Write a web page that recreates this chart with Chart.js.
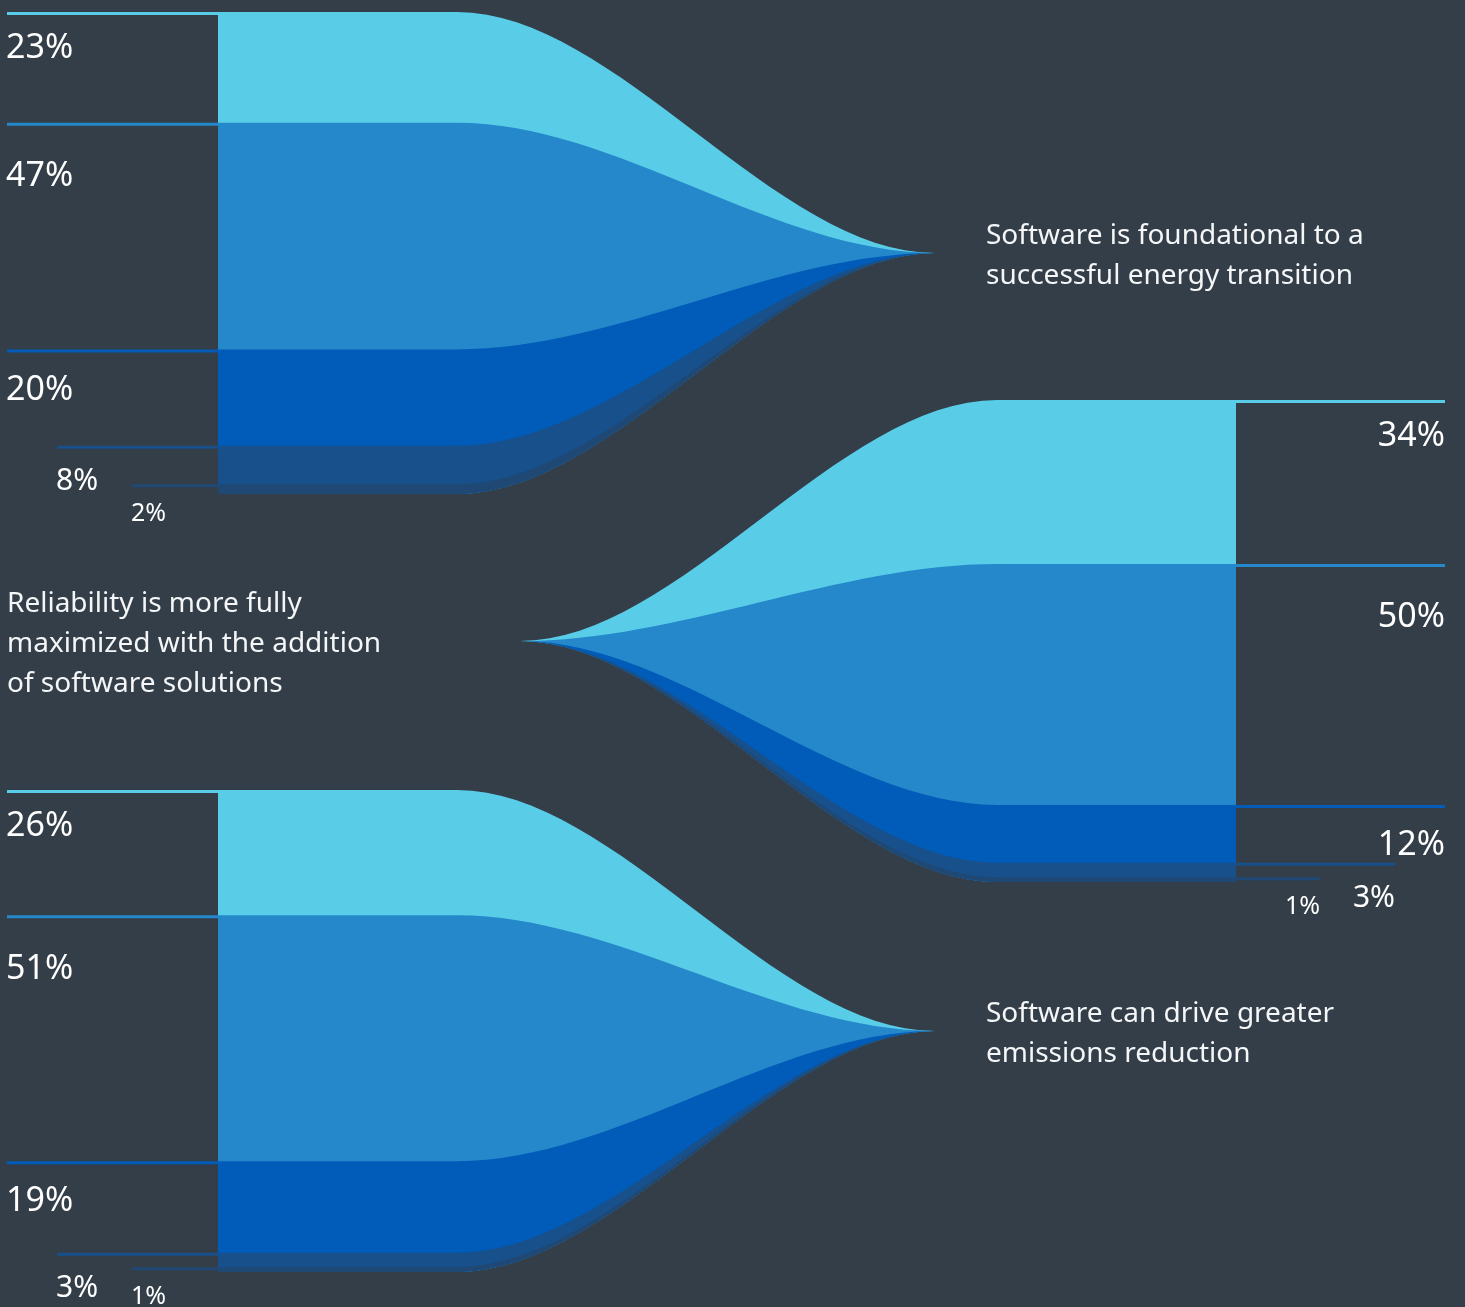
<!DOCTYPE html>
<html>
<head>
<meta charset="utf-8">
<script src="https://cdn.jsdelivr.net/npm/chart.js@4.4.1/dist/chart.umd.min.js"></script>
<style>
  html, body { margin: 0; padding: 0; background: #333e48; overflow: hidden; }
  body { width: 1465px; height: 1307px; position: relative; }
  .funnel { position: absolute; left: 0; width: 1465px; height: 534px; }
</style>
</head>
<body>
<div class="funnel" style="top:0px"><canvas id="foundational"></canvas></div>
<div class="funnel" style="top:388px"><canvas id="reliability"></canvas></div>
<div class="funnel" style="top:778px"><canvas id="emissions"></canvas></div>
<script>
// answer levels, top to bottom
const levels = ["Strongly agree", "Agree", "Neutral", "Disagree", "Strongly disagree"];

const statements = [
  ["Software is foundational to a", "successful energy transition"],
  ["Reliability is more fully", "maximized with the addition", "of software solutions"],
  ["Software can drive greater", "emissions reduction"]
];

const foundational = [23, 47, 20, 8, 2];
const reliability = [34, 50, 12, 3, 1];
const emissions = [26, 51, 19, 3, 1];

// styling
const segColors = ["#59cde7", "#2488ca", "#005cb8", "#17508a", "#1f4875"];
const labelIndent = [0, 0, 0, 50, 125];
const labelSize = [34, 34, 34, 30, 25];
const labelDrop = [35, 52, 39, 34, 28];
const FONT = '"Noto Sans", "Open Sans", sans-serif';

// funnel geometry in axis units: block start, bend, tip, tail past the tip
const TIP = 50;

function boundaries(values) {
  const cum = [0];
  values.forEach(v => cum.push(cum[cum.length - 1] + v));
  const last = values.length;
  return cum.map((c, k) => ({
    label: k < last ? levels[k] : "bottom",
    data: [{x: 0, y: c}, {x: 1, y: c}, {x: 3, y: TIP}, {x: 4, y: TIP}],
    fill: k < last ? last : false,
    backgroundColor: k < last ? segColors[k] : "transparent",
    borderColor: "transparent",
    borderWidth: 0,
    pointRadius: 0,
    cubicInterpolationMode: "monotone",
    order: last - k
  }));
}

const funnelLabels = {
  id: "funnelLabels",
  afterDatasetsDraw(chart, args, opts) {
    const {ctx, chartArea, scales: {x, y}} = chart;
    const right = opts.side === "right";
    const edge = right ? chartArea.right : chartArea.left;
    const outer = right ? edge + 209 : edge - 211;
    let cum = 0;
    ctx.save();
    opts.values.forEach((v, i) => {
      const py = y.getPixelForValue(cum) + 1.5;
      const start = right ? outer - labelIndent[i] : outer + labelIndent[i];
      ctx.strokeStyle = segColors[i];
      ctx.lineWidth = 3;
      ctx.beginPath();
      ctx.moveTo(start, py);
      ctx.lineTo(edge, py);
      ctx.stroke();
      ctx.fillStyle = "#ffffff";
      ctx.font = labelSize[i] + "px " + FONT;
      ctx.textAlign = right ? "right" : "left";
      ctx.textBaseline = "middle";
      ctx.fillText(v + "%", start + (right ? 0 : -1), py + labelDrop[i]);
      cum += v;
    });
    // statement next to the tip
    const tipX = x.getPixelForValue(3);
    const tipY = y.getPixelForValue(TIP);
    const lines = opts.text;
    const tx = right ? 7 : tipX + 51;
    ctx.font = "28px " + FONT;
    ctx.textAlign = "left";
    ctx.fillStyle = "#f4f6f8";
    lines.forEach((t, i) => {
      ctx.fillText(t, tx, tipY + 3 - (lines.length - 1) * 20 + i * 40);
    });
    ctx.restore();
  }
};

function makeFunnel(id, values, text, side) {
  const right = side === "right";
  new Chart(document.getElementById(id), {
    type: "line",
    data: { datasets: boundaries(values) },
    options: {
      responsive: true,
      maintainAspectRatio: false,
      animation: false,
      events: [],
      layout: {
        padding: right
          ? {left: 520, right: 229, top: 12, bottom: 40}
          : {left: 218, right: 530, top: 12, bottom: 40}
      },
      scales: {
        x: { type: "linear", min: 0, max: 3, reverse: right, display: false },
        y: { type: "linear", min: 0, max: 100, reverse: true, display: false }
      },
      plugins: {
        legend: { display: false },
        tooltip: { enabled: false },
        funnelLabels: { values: values, text: text, side: side }
      }
    },
    plugins: [funnelLabels]
  });
}

makeFunnel("foundational", foundational, statements[0], "left");
makeFunnel("reliability", reliability, statements[1], "right");
makeFunnel("emissions", emissions, statements[2], "left");
</script>
</body>
</html>
